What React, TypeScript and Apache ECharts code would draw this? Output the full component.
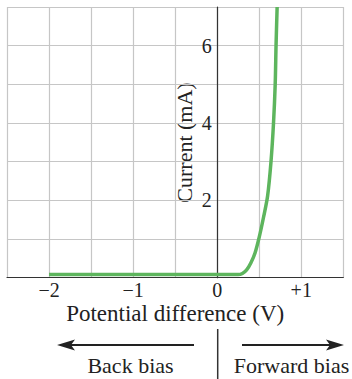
import React, { useEffect, useRef } from "react";
import * as echarts from "echarts";

const voltage = [-2, 0.25, 0.3, 0.35, 0.4, 0.45, 0.5, 0.55, 0.6, 0.64, 0.67, 0.69, 0.7, 0.713];
const current = [0.08, 0.08, 0.11, 0.2, 0.38, 0.64, 1.05, 1.55, 2.12, 3.0, 4.0, 5.0, 6.0, 7.0];
const xTickLabels: Record<string, string> = { "-2": "\u22122", "-1": "\u22121", "0": "0", "1": "+1" };
const yTickLabels = [2, 4, 6];

const FONT = "'Liberation Serif', 'Times New Roman', serif";
const TEXT = "#222222";
const GREEN = "#5db55d";

export default function App() {
  const ref = useRef<HTMLDivElement>(null);
  useEffect(() => {
    if (!ref.current) return;
    const chart = echarts.init(ref.current, null, { renderer: "svg" });
    chart.setOption({
      animation: false,
      backgroundColor: "#ffffff",
      grid: { left: 7, right: 8.7, top: 7, bottom: 101.3, containLabel: false, outerBoundsMode: "none" },
      xAxis: {
        type: "value",
        min: -2.5,
        max: 1.5,
        interval: 0.5,
        name: "Potential difference (V)",
        nameLocation: "middle",
        nameGap: 26,
        nameMoveOverlap: false,
        nameTextStyle: { fontFamily: FONT, fontSize: 23, lineHeight: 20, color: TEXT },
        axisLine: { onZero: true, lineStyle: { color: "#333333", width: 1.2 } },
        axisTick: { show: false },
        axisLabel: {
          fontFamily: FONT,
          fontSize: 20,
          lineHeight: 18,
          color: TEXT,
          margin: 3,
          showMinLabel: true,
          showMaxLabel: true,
          formatter: (v: number) => xTickLabels[String(v)] ?? "",
        },
        splitLine: { show: true, lineStyle: { color: "#c6c6c6", width: 1.2 } },
      },
      yAxis: {
        type: "value",
        min: 0,
        max: 7,
        interval: 1,
        offset: -210.7,
        axisLine: { show: true, onZero: false, lineStyle: { color: "#333333", width: 1.2 } },
        axisTick: { show: false },
        axisLabel: {
          fontFamily: FONT,
          fontSize: 20,
          color: TEXT,
          margin: 6,
          formatter: (v: number) => (yTickLabels.includes(v) ? String(v) : ""),
        },
        splitLine: { show: true, lineStyle: { color: "#c6c6c6", width: 1.2 } },
      },
      series: [
        {
          type: "line",
          data: voltage.map((v, i) => [v, current[i]]),
          showSymbol: false,
          smooth: 0.3,
          lineStyle: { color: GREEN, width: 3.5 },
          z: 5,
        },
      ],
      graphic: [
        {
          type: "text",
          x: 184,
          y: 142.5,
          rotation: Math.PI / 2,
          style: { text: "Current (mA)", fontFamily: FONT, fontSize: 22, fill: TEXT, align: "center", verticalAlign: "middle" },
        },
        { type: "line", shape: { x1: 70, y1: 345, x2: 194, y2: 345 }, style: { stroke: "#222", lineWidth: 2 } },
        { type: "polygon", shape: { points: [[57, 345], [75, 339.5], [71, 345], [75, 350.5]] }, style: { fill: "#222" } },
        { type: "line", shape: { x1: 242, y1: 345, x2: 332, y2: 345 }, style: { stroke: "#222", lineWidth: 2 } },
        { type: "polygon", shape: { points: [[344, 345], [326, 339.5], [330, 345], [326, 350.5]] }, style: { fill: "#222" } },
        { type: "line", shape: { x1: 217.7, y1: 329, x2: 217.7, y2: 379 }, style: { stroke: "#333", lineWidth: 1.5 } },
        {
          type: "text",
          x: 130.5,
          y: 365,
          style: { text: "Back bias", fontFamily: FONT, fontSize: 22, fill: TEXT, align: "center", verticalAlign: "middle" },
        },
        {
          type: "text",
          x: 291.5,
          y: 365,
          style: { text: "Forward bias", fontFamily: FONT, fontSize: 22, fill: TEXT, align: "center", verticalAlign: "middle" },
        },
      ],
    });
    return () => chart.dispose();
  }, []);
  return <div ref={ref} style={{ position: "fixed", left: 0, top: 0, width: 352, height: 379 }} />;
}
